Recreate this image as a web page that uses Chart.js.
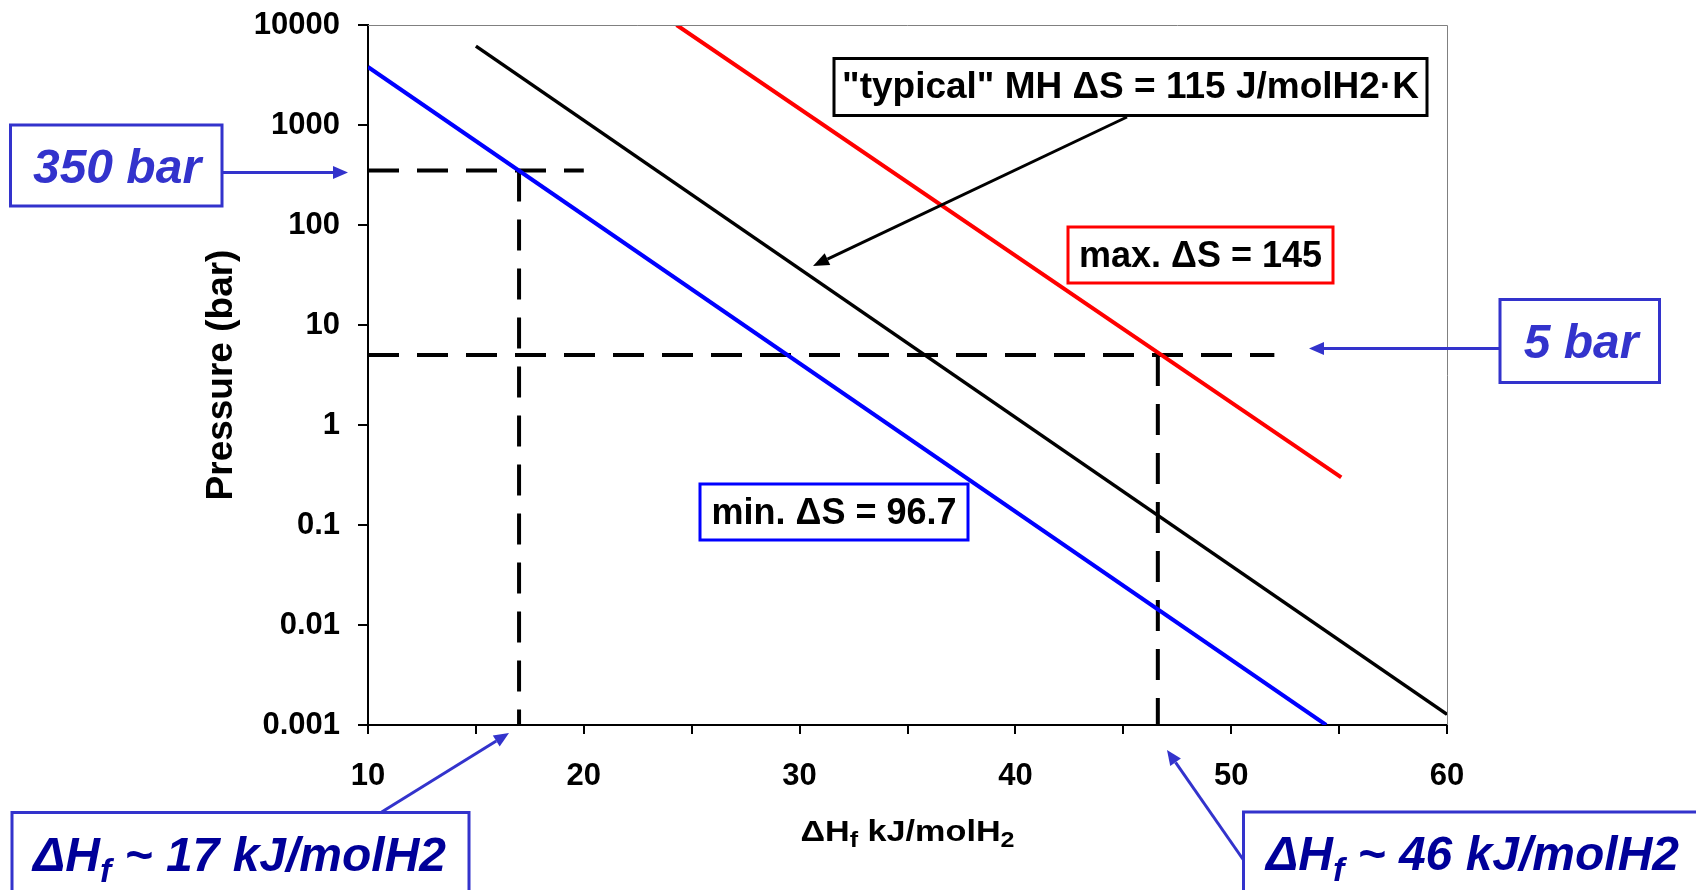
<!DOCTYPE html>
<html>
<head>
<meta charset="utf-8">
<title>Pressure vs formation enthalpy</title>
<script src="https://cdn.jsdelivr.net/npm/chart.js@4/dist/chart.umd.min.js"></script>
<style>
  html, body { margin: 0; padding: 0; background: #ffffff; }
  #wrap { width: 1696px; height: 890px; position: relative; }
  canvas { display: block; }
</style>
</head>
<body>
<div id="wrap"><canvas id="chart" width="1696" height="890"></canvas></div>
<script>
// ---------------- data ----------------
const xTickValues = [10, 15, 20, 25, 30, 35, 40, 45, 50, 55, 60];
const xTickLabels = ['10', '', '20', '', '30', '', '40', '', '50', '', '60'];
const yTickValues = [0.001, 0.01, 0.1, 1, 10, 100, 1000, 10000];
const yTickLabels = ['0.001', '0.01', '0.1', '1', '10', '100', '1000', '10000'];

// min. ΔS = 96.7 (blue)
const minDeltaH = [10, 54.4];
const minPressure = [3800, 0.001];
// "typical" MH ΔS = 115 (black)
const typDeltaH = [15, 60];
const typPressure = [6150, 0.00128];
// max. ΔS = 145 (red)
const maxDeltaH = [24.3, 55.1];
const maxPressure = [10000, 0.3];

// dashed guide lines
const guide350DeltaH = [10, 20];
const guide350Pressure = [350, 350];
const guide17DeltaH = [17, 17];
const guide17Pressure = [350, 0.001];
const guide5DeltaH = [10, 52];
const guide5Pressure = [5, 5];
const guide46DeltaH = [46.6, 46.6];
const guide46Pressure = [5, 0.001];

// ---------------- chart ----------------
const FONT = "'Liberation Sans', Arial, Helvetica, sans-serif";
Chart.defaults.font.family = FONT;
Chart.defaults.color = '#000000';

function pts(xs, ys) { return xs.map((x, i) => ({ x: x, y: ys[i] })); }
function lineDs(label, xs, ys, color, width, dash) {
  return {
    label: label,
    data: pts(xs, ys),
    borderColor: color,
    backgroundColor: color,
    borderWidth: width,
    borderDash: dash || [],
    borderCapStyle: 'butt',
    pointRadius: 0,
    pointHoverRadius: 0,
    fill: false,
    tension: 0
  };
}

const BLUE_BOX = '#3333CC';
const NAVY = '#000099';

function box(c, x, y, w, h, color, lw) {
  c.strokeStyle = color; c.lineWidth = lw;
  c.strokeRect(x, y, w, h);
}
function arrow(c, x1, y1, x2, y2, color, lw, hl, hw) {
  const ang = Math.atan2(y2 - y1, x2 - x1);
  const bx = x2 - hl * Math.cos(ang), by = y2 - hl * Math.sin(ang);
  c.strokeStyle = color; c.lineWidth = lw; c.lineCap = 'butt';
  c.beginPath(); c.moveTo(x1, y1); c.lineTo(bx, by); c.stroke();
  c.fillStyle = color;
  c.beginPath();
  c.moveTo(x2, y2);
  c.lineTo(bx + hw * Math.sin(ang), by - hw * Math.cos(ang));
  c.lineTo(bx - hw * Math.sin(ang), by + hw * Math.cos(ang));
  c.closePath(); c.fill();
}
// rich text: segments [{t, size, dy}]
function rich(c, segs, x, y, style, color, align, targetWidth) {
  c.save();
  c.fillStyle = color;
  c.textBaseline = 'alphabetic';
  c.textAlign = 'left';
  let total = 0;
  const ws = segs.map(s => { c.font = style + ' ' + s.size + 'px ' + FONT; const w = c.measureText(s.t).width; total += w; return w; });
  let sx = 1;
  if (targetWidth) sx = targetWidth / total;
  const W = total * sx;
  let x0 = align === 'center' ? x - W / 2 : (align === 'right' ? x - W : x);
  c.translate(x0, y);
  c.scale(sx, 1);
  let cx = 0;
  segs.forEach((s, i) => {
    c.font = style + ' ' + s.size + 'px ' + FONT;
    c.fillText(s.t, cx, s.dy || 0);
    cx += ws[i];
  });
  c.restore();
}

const annotations = {
  id: 'annotations',
  afterDraw(chart) {
    const c = chart.ctx;
    const a = chart.chartArea;
    c.save();
    // thin frame on top and right of the plot area
    c.strokeStyle = '#808080'; c.lineWidth = 1;
    c.beginPath();
    c.moveTo(a.left, a.top + 0.5);
    c.lineTo(a.right + 0.5, a.top + 0.5);
    c.lineTo(a.right + 0.5, a.bottom);
    c.stroke();

    // typical box
    box(c, 834, 58.5, 593, 57, '#000000', 3);
    rich(c, [{ t: '"typical" MH \u0394S = 115 J/molH2\u00B7K', size: 37 }], 1130.5, 98, 'bold', '#000000', 'center');
    arrow(c, 1127, 117, 813, 266, '#000000', 3, 16, 6.5);

    // max box
    box(c, 1068, 227, 265, 56, '#FF0000', 3);
    rich(c, [{ t: 'max. \u0394S = 145', size: 36 }], 1200.5, 267, 'bold', '#000000', 'center');

    // min box
    box(c, 700, 484, 268, 56, '#0000FF', 3);
    rich(c, [{ t: 'min. \u0394S = 96.7', size: 36 }], 834, 524, 'bold', '#000000', 'center');

    // 350 bar callout
    box(c, 10.5, 125, 211.5, 81, BLUE_BOX, 3);
    rich(c, [{ t: '350 bar', size: 48 }], 117, 183, 'italic bold', BLUE_BOX, 'center');
    arrow(c, 222, 172.5, 348, 172.5, BLUE_BOX, 3, 15, 6.5);

    // 5 bar callout
    box(c, 1500, 299.5, 159.5, 83, BLUE_BOX, 3);
    rich(c, [{ t: '5 bar', size: 48 }], 1581, 358, 'italic bold', BLUE_BOX, 'center');
    arrow(c, 1500, 348.5, 1309, 348.5, BLUE_BOX, 3, 15, 6.5);

    // bottom-left callout
    box(c, 12, 812.5, 457, 120, BLUE_BOX, 3);
    rich(c, [{ t: '\u0394H', size: 48 }, { t: 'f', size: 34, dy: 11 }, { t: ' ~ 17 kJ/molH2', size: 48 }], 33, 871, 'italic bold', NAVY, 'left');
    arrow(c, 381.7, 812, 509, 733, BLUE_BOX, 3, 15, 6.5);

    // bottom-right callout
    box(c, 1243.5, 812, 520, 120, BLUE_BOX, 3);
    rich(c, [{ t: '\u0394H', size: 48 }, { t: 'f', size: 34, dy: 11 }, { t: ' ~ 46 kJ/molH2', size: 48 }], 1266, 870, 'italic bold', NAVY, 'left');
    arrow(c, 1243.5, 860, 1167, 750, BLUE_BOX, 3, 15, 6.5);

    // x-axis title with subscripts
    const xs = chart.scales.x;
    const midX = (xs.left + xs.right) / 2;
    rich(c, [{ t: '\u0394H', size: 30 }, { t: 'f', size: 22, dy: 6 }, { t: ' kJ/molH', size: 30 }, { t: '2', size: 22, dy: 6 }],
      midX, 841, 'bold', '#000000', 'center', 214);
    c.restore();
  }
};

const chart = new Chart(document.getElementById('chart'), {
  type: 'line',
  data: {
    datasets: [
      lineDs('max. \u0394S = 145', maxDeltaH, maxPressure, '#FF0000', 4),
      lineDs('"typical" MH \u0394S = 115', typDeltaH, typPressure, '#000000', 3.5),
      lineDs('min. \u0394S = 96.7', minDeltaH, minPressure, '#0000FF', 4),
      lineDs('350 bar', guide350DeltaH, guide350Pressure, '#000000', 4, [31, 18]),
      lineDs('17 kJ', guide17DeltaH, guide17Pressure, '#000000', 4, [31, 18]),
      lineDs('5 bar', guide5DeltaH, guide5Pressure, '#000000', 4, [31, 18]),
      lineDs('46 kJ', guide46DeltaH, guide46Pressure, '#000000', 4, [31, 18])
    ]
  },
  options: {
    responsive: false,
    animation: false,
    devicePixelRatio: 1,
    layout: { padding: { left: 0, right: 249, top: 25, bottom: 0 } },
    plugins: {
      legend: { display: false },
      tooltip: { enabled: false },
      title: { display: false }
    },
    scales: {
      x: {
        type: 'linear',
        position: 'bottom',
        min: 10,
        max: 60,
        afterBuildTicks: (s) => { s.ticks = xTickValues.map(v => ({ value: v })); },
        afterFit: (s) => { s.height = 165; s.paddingLeft = 0; s.paddingRight = 0; s.paddingTop = 0; s.paddingBottom = 0; },
        ticks: {
          autoSkip: false,
          maxRotation: 0,
          minRotation: 0,
          padding: 24,
          color: '#000000',
          font: { size: 31, weight: 'bold', family: FONT },
          callback: (v, i) => xTickLabels[i]
        },
        grid: { drawOnChartArea: false, drawTicks: true, tickLength: 9, color: '#000000', lineWidth: 2 },
        border: { display: true, color: '#000000', width: 2 }
      },
      y: {
        type: 'logarithmic',
        position: 'left',
        min: 0.001,
        max: 10000,
        afterBuildTicks: (s) => { s.ticks = yTickValues.map(v => ({ value: v })); },
        afterFit: (s) => { s.width = 368; s.paddingLeft = 0; s.paddingRight = 0; s.paddingTop = 0; s.paddingBottom = 0; },
        ticks: {
          autoSkip: false,
          padding: 18,
          color: '#000000',
          font: { size: 31, weight: 'bold', family: FONT },
          callback: (v, i) => yTickLabels[i]
        },
        grid: { drawOnChartArea: false, drawTicks: true, tickLength: 10, color: '#000000', lineWidth: 2 },
        border: { display: true, color: '#000000', width: 2 },
        title: {
          display: true,
          text: 'Pressure (bar)',
          color: '#000000',
          font: { size: 37, weight: 'bold', family: FONT },
          padding: { top: 200, bottom: 0 }
        }
      }
    }
  },
  plugins: [annotations]
});
</script>
</body>
</html>
